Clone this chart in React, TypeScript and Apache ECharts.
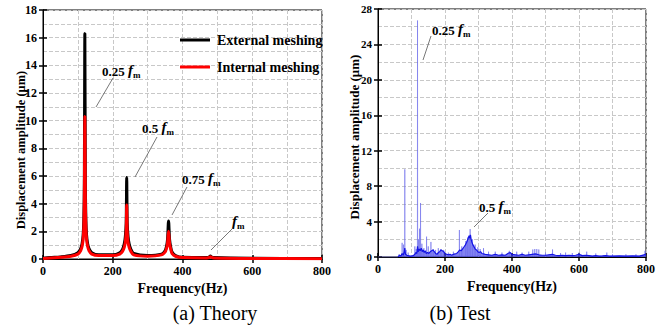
import React, { useEffect, useRef } from "react";
import * as echarts from "echarts";

const xTicks = [0, 200, 400, 600, 800];

// (a) Theory — external meshing (black)
const externalMeshing: [number, number][] = [
  [0, 0.05], [20, 0.1], [50, 0.15], [80, 0.25], [100, 0.45], [108, 0.75], [112, 1.1], [115, 1.7],
  [117, 2.8], [118.5, 5.5], [120, 16.3], [121.5, 5.5], [123, 2.8], [125, 1.7], [128, 1.1], [132, 0.75],
  [140, 0.45], [160, 0.3], [200, 0.3], [220, 0.45], [228, 0.7], [233, 1.1], [236, 1.6], [238.5, 2.6],
  [240, 5.9], [241.5, 2.6], [244, 1.6], [247, 1.1], [252, 0.7], [260, 0.4], [300, 0.25], [340, 0.35],
  [350, 0.6], [354, 0.9], [357, 1.4], [360, 2.75], [363, 1.4], [366, 0.9], [370, 0.5], [380, 0.25],
  [400, 0.12], [470, 0.1], [477, 0.15], [480, 0.22], [483, 0.15], [490, 0.1], [600, 0.05], [800, 0.03],
];

// (a) Theory — internal meshing (red)
const internalMeshing: [number, number][] = [
  [0, 0.04], [20, 0.08], [50, 0.12], [80, 0.2], [100, 0.35], [108, 0.6], [112, 0.9], [115, 1.4],
  [117, 2.3], [118.5, 4.2], [120, 10.3], [121.5, 4.2], [123, 2.3], [125, 1.4], [128, 0.9], [132, 0.6],
  [140, 0.35], [160, 0.25], [200, 0.25], [220, 0.35], [228, 0.55], [233, 0.85], [236, 1.2], [238.5, 2.0],
  [240, 3.9], [241.5, 2.0], [244, 1.2], [247, 0.85], [252, 0.55], [260, 0.3], [300, 0.2], [340, 0.3],
  [350, 0.5], [354, 0.75], [357, 1.1], [360, 2.0], [363, 1.1], [366, 0.75], [370, 0.4], [380, 0.2],
  [400, 0.1], [470, 0.08], [477, 0.12], [480, 0.17], [483, 0.12], [490, 0.08], [600, 0.04], [800, 0.02],
];

// (b) Test — sharp light spikes [Hz, µm]
const testSpikes: [number, number][] = [
  [63, 0.3], [72, 1.6], [76, 1.4], [80, 9.9], [84, 0.8], [90, 0.5], [110, 1.2], [114, 0.9],
  [118, 26.7], [121, 2.0], [124, 3.2], [127, 6.1], [131, 1.5], [137, 1.0], [145, 2.3], [150, 1.2],
  [158, 1.7], [165, 0.9], [172, 0.8], [180, 1.0], [188, 0.9], [196, 0.8], [210, 0.5], [225, 0.6],
  [243, 3.05], [250, 1.2], [262, 1.8], [268, 2.2], [275, 3.15], [282, 2.0], [290, 1.4], [298, 1.1],
  [305, 0.9], [315, 1.0], [330, 0.6], [350, 0.6], [370, 0.5], [392, 0.7], [414, 0.6], [430, 0.5],
  [450, 0.6], [462, 0.85], [468, 0.9], [474, 0.9], [480, 0.85], [500, 0.5], [521, 0.85], [545, 0.45],
  [560, 0.5], [580, 0.45], [600, 0.5], [623, 0.6], [650, 0.4], [683, 0.5], [700, 0.3], [740, 0.3],
  [770, 0.3], [797, 0.7],
];

// (b) Test — dense dark spectrum envelope [Hz, µm]
const testSpectrum: [number, number][] = [
  [60, 0], [64, 0.2], [68, 0.1], [72, 0.4], [75, 0.2], [78, 0.5], [80, 1.0], [82, 0.3], [86, 0.2],
  [90, 0.15], [95, 0.1], [100, 0.1], [105, 0.15], [110, 0.3], [113, 0.5], [116, 0.4], [118, 1.2],
  [120, 0.6], [123, 0.9], [126, 0.7], [129, 1.0], [132, 0.6], [135, 0.8], [138, 0.5], [141, 0.7],
  [144, 0.4], [148, 0.5], [152, 0.4], [156, 0.6], [160, 0.7], [164, 0.8], [168, 0.6], [172, 0.4],
  [176, 0.3], [180, 0.5], [184, 0.6], [188, 0.8], [192, 0.7], [196, 0.6], [200, 0.4], [205, 0.3],
  [210, 0.25], [215, 0.3], [220, 0.2], [225, 0.3], [230, 0.35], [235, 0.4], [240, 0.6], [244, 0.8],
  [248, 0.7], [252, 0.9], [256, 1.1], [260, 1.3], [264, 1.6], [267, 1.9], [270, 2.2], [272, 2.4],
  [274, 2.1], [276, 2.5], [278, 2.0], [280, 1.7], [283, 1.4], [286, 1.2], [290, 0.9], [294, 0.8],
  [298, 0.6], [302, 0.5], [306, 0.6], [310, 0.4], [315, 0.35], [320, 0.3], [330, 0.25], [340, 0.2],
  [350, 0.3], [360, 0.2], [370, 0.25], [380, 0.2], [390, 0.45], [395, 0.5], [400, 0.3], [410, 0.25],
  [420, 0.2], [430, 0.3], [440, 0.2], [450, 0.25], [460, 0.3], [470, 0.35], [480, 0.25], [490, 0.2],
  [500, 0.2], [510, 0.25], [520, 0.3], [530, 0.2], [540, 0.15], [550, 0.2], [560, 0.15], [570, 0.2],
  [580, 0.15], [590, 0.2], [600, 0.3], [610, 0.15], [620, 0.2], [630, 0.15], [640, 0.1], [650, 0.15],
  [660, 0.1], [670, 0.12], [680, 0.15], [690, 0.1], [700, 0.1], [720, 0.12], [740, 0.1], [760, 0.12],
  [780, 0.1], [800, 0.3],
];

const SERIF = "Liberation Serif";
const Y_NAME = "Displacement amplitude (μm)";

function spikeLine(sp: [number, number][]): [number, number][] {
  const out: [number, number][] = [[0, 0], [60, 0]];
  sp.forEach(([f, v]) => {
    out.push([f - 0.4, 0.1], [f, v], [f + 0.4, 0.1]);
  });
  out.push([800, 0]);
  return out;
}

function valueAxes(grid: number, max: number, interval: number, labelSize: number) {
  const common = {
    type: "value" as const,
    gridIndex: grid,
    min: 0,
    max,
    interval,
    axisLine: { show: true, lineStyle: { color: "#000", width: 1 } },
    axisTick: { show: true, inside: true, length: 4, lineStyle: { color: "#000", width: 1.5 } },
  };
  return [
    {
      ...common,
      position: "left",
      axisLabel: { color: "#000", fontFamily: SERIF, fontWeight: "bold", fontSize: labelSize, margin: 6 },
      splitLine: { show: true, lineStyle: { color: "#c8c8c8", type: "dashed", width: 1 } },
      minorTick: { show: false, splitNumber: 2 },
      minorSplitLine: { show: true, lineStyle: { color: "#c8c8c8", type: "dashed", width: 1 } },
    },
    { ...common, position: "right", axisLabel: { show: false }, splitLine: { show: false } },
  ];
}

function freqAxes(grid: number) {
  const common = {
    type: "value" as const,
    gridIndex: grid,
    min: 0,
    max: 800,
    interval: 200,
    axisLine: { show: true, lineStyle: { color: "#000", width: 1 } },
    axisTick: { show: true, inside: true, length: 4, lineStyle: { color: "#000", width: 1.5 } },
  };
  return [
    {
      ...common,
      position: "bottom",
      axisLabel: {
        color: "#000",
        fontFamily: SERIF,
        fontWeight: "bold",
        fontSize: 12,
        margin: 6,
        formatter: (v: number) => (xTicks.includes(v) ? String(v) : ""),
      },
      splitLine: { show: true, lineStyle: { color: "#c8c8c8", type: "dashed", width: 1 } },
      minorTick: { show: false, splitNumber: 2 },
      minorSplitLine: { show: true, lineStyle: { color: "#c8c8c8", type: "dashed", width: 1 } },
      name: "Frequency(Hz)",
      nameLocation: "middle",
      nameGap: 21,
      nameTextStyle: { color: "#000", fontFamily: SERIF, fontWeight: "bold", fontSize: 14 },
    },
    { ...common, position: "top", axisLabel: { show: false }, splitLine: { show: false } },
  ];
}

function fmLabel(x: number, y: number, coef: string) {
  return {
    type: "text",
    x,
    y,
    z: 10,
    style: {
      text: (coef ? "{a|" + coef + " }" : "") + "{f|f}{m|m}",
      align: "left",
      verticalAlign: "middle",
      rich: {
        a: { fontFamily: SERIF, fontWeight: "bold", fontSize: 13, fill: "#000", verticalAlign: "bottom" },
        f: { fontFamily: SERIF, fontWeight: "bold", fontStyle: "italic", fontSize: 15, fill: "#000", verticalAlign: "bottom" },
        m: { fontFamily: SERIF, fontWeight: "bold", fontSize: 9, fill: "#000", verticalAlign: "bottom", padding: [0, 0, -2, 0] },
      },
    },
  };
}

function leader(x1: number, y1: number, x2: number, y2: number) {
  return { type: "line", z: 10, shape: { x1, y1, x2, y2 }, style: { stroke: "#555", lineWidth: 0.8 } };
}

function yName(x: number, y: number, size: number) {
  return {
    type: "text",
    x,
    y,
    rotation: Math.PI / 2,
    style: { text: Y_NAME, fontFamily: SERIF, fontWeight: "bold", fontSize: size, fill: "#000", align: "center", verticalAlign: "middle" },
  };
}

export default function App() {
  const ref = useRef<HTMLDivElement>(null);
  useEffect(() => {
    if (!ref.current) return;
    const chart = echarts.init(ref.current, null, { renderer: "svg" });
    const [y0, y0r] = valueAxes(0, 18, 2, 12);
    const [y1, y1r] = valueAxes(1, 28, 4, 11);
    const [x0, x0t] = freqAxes(0);
    const [x1, x1t] = freqAxes(1);
    chart.setOption({
      animation: false,
      backgroundColor: "#fff",
      grid: [
        { left: 43, top: 10, width: 279, height: 249, show: true, borderColor: "#000", borderWidth: 1, backgroundColor: "transparent" },
        { left: 378, top: 9, width: 268, height: 248, show: true, borderColor: "#000", borderWidth: 1, backgroundColor: "transparent" },
      ],
      legend: {
        show: true,
        orient: "vertical",
        left: 175,
        top: 28,
        itemWidth: 30,
        itemHeight: 3,
        itemGap: 13,
        icon: "rect",
        data: ["External meshing", "Internal meshing"],
        textStyle: { fontFamily: SERIF, fontWeight: "bold", fontSize: 14, color: "#000", padding: [0, 0, 0, 2] },
        selectedMode: false,
      },
      xAxis: [x0, x0t, x1, x1t],
      yAxis: [y0, y0r, y1, y1r],
      series: [
        {
          name: "External meshing",
          type: "line",
          xAxisIndex: 0,
          yAxisIndex: 0,
          data: externalMeshing,
          showSymbol: false,
          smooth: 0.3,
          itemStyle: { color: "#000" },
          lineStyle: { color: "#000", width: 3 },
        },
        {
          name: "Internal meshing",
          type: "line",
          xAxisIndex: 0,
          yAxisIndex: 0,
          data: internalMeshing,
          showSymbol: false,
          smooth: 0.3,
          itemStyle: { color: "#ff0000" },
          lineStyle: { color: "#ff0000", width: 3 },
        },
        {
          name: "Test spikes",
          type: "line",
          xAxisIndex: 2,
          yAxisIndex: 2,
          data: spikeLine(testSpikes),
          showSymbol: false,
          lineStyle: { color: "rgba(110,110,235,0.6)", width: 1 },
        },
        {
          name: "Test spectrum",
          type: "line",
          xAxisIndex: 2,
          yAxisIndex: 2,
          data: testSpectrum,
          showSymbol: false,
          lineStyle: { color: "#1414e6", width: 1.2 },
          areaStyle: { color: "rgba(20,20,230,0.75)" },
        },
      ],
      graphic: [
        yName(21, 150, 12.5),
        yName(354, 137, 13),
        // annotations (a)
        fmLabel(102, 70, "0.25"),
        leader(113, 78, 96, 107),
        fmLabel(142, 127, "0.5"),
        leader(157, 137, 135, 177),
        fmLabel(182, 178, "0.75"),
        leader(187, 187, 172, 215),
        fmLabel(232, 221, ""),
        leader(233, 228, 211, 250),
        // annotations (b)
        fmLabel(432, 29, "0.25"),
        leader(431, 36, 423, 60),
        fmLabel(479, 206, "0.5"),
        leader(488, 213, 474, 227),
        // captions
        { type: "text", x: 215, y: 313, style: { text: "(a) Theory", fontFamily: SERIF, fontSize: 20, fill: "#000", align: "center", verticalAlign: "middle" } },
        { type: "text", x: 460, y: 313, style: { text: "(b) Test", fontFamily: SERIF, fontSize: 20, fill: "#000", align: "center", verticalAlign: "middle" } },
      ],
    });
    return () => chart.dispose();
  }, []);
  return <div ref={ref} style={{ position: "fixed", left: 0, top: 0, width: 662, height: 327 }} />;
}
